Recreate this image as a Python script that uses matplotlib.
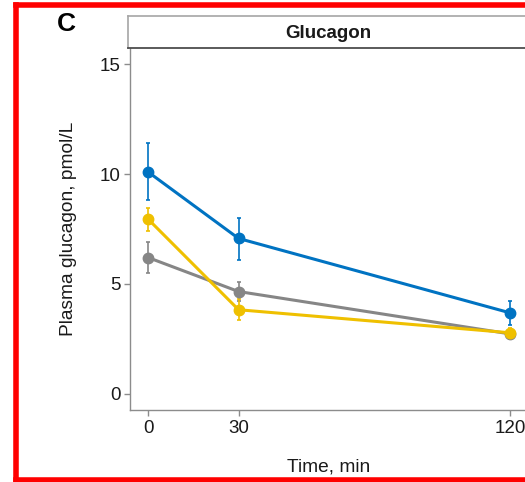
import matplotlib
matplotlib.use("Agg")
import matplotlib.pyplot as plt
from matplotlib.lines import Line2D

plt.rcParams['font.family'] = ['Liberation Sans', 'DejaVu Sans']

# Data
time_min = [0, 30, 120]
x_ticks = [0, 30, 120]
y_ticks = [0, 5, 10, 15]
grey_mean = [6.2, 4.65, 2.72]
grey_lo = [5.5, 4.2, 2.5]
grey_hi = [6.9, 5.1, 2.95]
blue_mean = [10.1, 7.07, 3.68]
blue_lo = [8.8, 6.1, 3.14]
blue_hi = [11.4, 8.0, 4.23]
yellow_mean = [7.95, 3.82, 2.77]
yellow_lo = [7.4, 3.35, 2.5]
yellow_hi = [8.45, 4.3, 3.0]
colors = {"grey": "#868686", "blue": "#0073C2", "yellow": "#EFC000"}

W, H = 525, 482
fig = plt.figure(figsize=(W / 100, H / 100), dpi=100)

# axes in pixel geometry
ax_l, ax_r = 130, 528
ax_top, ax_bot = 48, 410
ax = fig.add_axes([ax_l / W, (H - ax_bot) / H, (ax_r - ax_l) / W, (ax_bot - ax_top) / H])

series = [
    ("grey", grey_mean, grey_lo, grey_hi),
    ("blue", blue_mean, blue_lo, blue_hi),
    ("yellow", yellow_mean, yellow_lo, yellow_hi),
]
for name, m, lo, hi in series:
    c = colors[name]
    yerr = [[mm - l for mm, l in zip(m, lo)], [h - mm for mm, h in zip(m, hi)]]
    ax.errorbar(time_min, m, yerr=yerr, fmt="none", ecolor=c, elinewidth=1.2,
                capsize=1.5, capthick=1.2, zorder=2)
    ax.plot(time_min, m, color=c, lw=2.2, marker="o", ms=7.5, zorder=3)

ax.set_xlim(-6, 126)
ax.set_ylim(-0.75, 15.75)
ax.set_xticks(x_ticks)
ax.set_yticks(y_ticks)
ax.set_xticklabels([str(t) for t in x_ticks])
ax.set_yticklabels([str(t) for t in y_ticks])
for s in ["top", "right"]:
    ax.spines[s].set_visible(False)
for s in ["left", "bottom"]:
    ax.spines[s].set_color("#8c8c8c")
    ax.spines[s].set_linewidth(1.0)
ax.tick_params(axis="both", colors="#8c8c8c", labelcolor="#1a1a1a", labelsize=13.5,
               length=4, width=1.0, pad=3)
ax.set_xlabel("Time, min", fontsize=13.8, color="#1a1a1a", labelpad=16)
ax.set_ylabel("Plasma glucagon, pmol/L", fontsize=13.8, color="#1a1a1a", labelpad=16)

# strip
strip_top = 16
sax = fig.add_axes([ax_l / W - 2 / W, (H - ax_top) / H, (ax_r - ax_l) / W + 2 / W, (ax_top - strip_top) / H])
sax.set_xticks([]); sax.set_yticks([])
sax.set_facecolor("white")
for s in ["top", "left"]:
    sax.spines[s].set_color("#a6a6a6")
    sax.spines[s].set_linewidth(1.2)
sax.spines["right"].set_visible(False)
sax.spines["bottom"].set_color("#4d4d4d")
sax.spines["bottom"].set_linewidth(1.3)
sax.text(0.5, 0.44, "Glucagon", ha="center", va="center", fontsize=13.5,
         fontweight="bold", color="#1a1a1a", transform=sax.transAxes)

# panel label
fig.text(57 / W, 1 - 24 / H, "C", fontsize=19, fontweight="bold", ha="left", va="center")

# red frame (left, top, bottom; right side is off the picture)
red_kw = dict(transform=fig.transFigure, color="#ff0000", linewidth=4, solid_capstyle="projecting")
x0, y_top, y_bot = 15.5 / W, 1 - 4.5 / H, 1 - 480 / H
fig.add_artist(Line2D([x0, x0], [y_bot, y_top], **red_kw))
fig.add_artist(Line2D([x0, 1.05], [y_top, y_top], **red_kw))
fig.add_artist(Line2D([x0, 1.05], [y_bot, y_bot], **red_kw))

fig.savefig("out.png", dpi=100)
